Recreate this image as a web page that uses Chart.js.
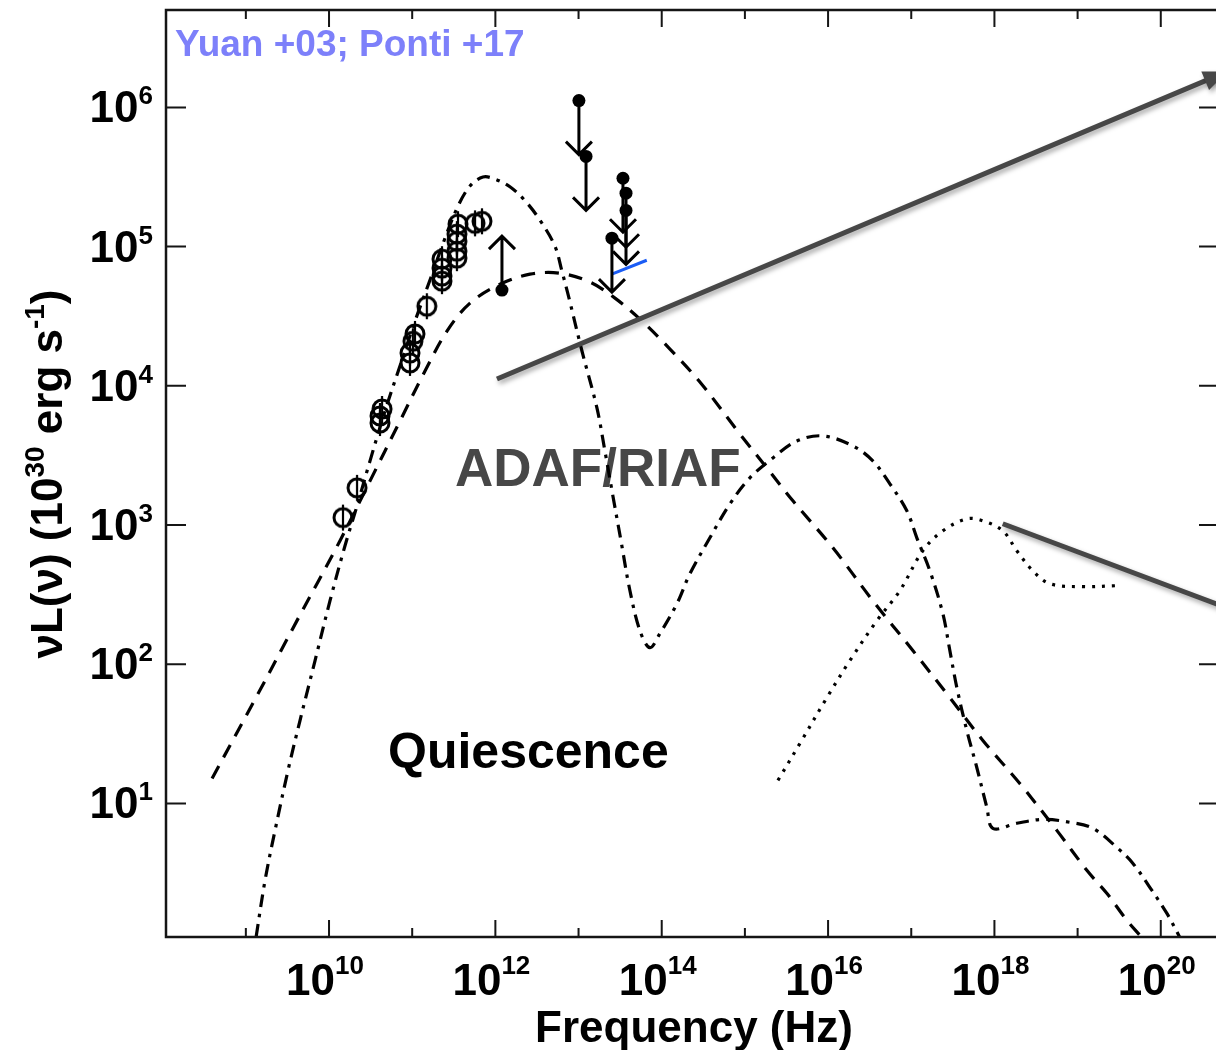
<!DOCTYPE html>
<html>
<head>
<meta charset="utf-8">
<title>Sgr A* quiescent SED</title>
<script src="https://cdn.jsdelivr.net/npm/chart.js@4.4.1/dist/chart.umd.min.js"></script>
<style>
  html, body { margin: 0; padding: 0; background: #fff; overflow: hidden; }
  #wrap { position: relative; width: 1230px; height: 1050px; }
</style>
</head>
<body>
<div id="wrap"><canvas id="sed" width="1230" height="1050"></canvas></div>
<script>
// ---- Radio / sub-mm detections (open circles) ----
const radioFreq = [1.47e10, 2.17e10, 4.1e10, 4.1e10, 4.34e10, 9.4e10, 9.4e10, 1.02e11, 1.08e11, 1.5e11,
                   2.28e11, 2.28e11, 2.28e11, 2.28e11, 3.45e11, 3.45e11, 3.45e11, 3.45e11, 3.55e11, 5.69e11, 6.9e11];
const radioLum  = [1.13e3, 1.85e3, 5.4e3, 6.07e3, 6.82e3, 1.46e4, 1.72e4, 2.09e4, 2.36e4, 3.73e4,
                   5.65e4, 6.14e4, 7.0e4, 8.13e4, 8.26e4, 9.27e4, 1.09e5, 1.23e5, 1.45e5, 1.47e5, 1.52e5];

// ---- Infrared upper limits (filled circles, arrow down) ----
const upperFreq = [1.01e13, 1.23e13, 2.52e13, 3.42e13, 3.72e13, 3.72e13];
const upperLum  = [1.12e6, 4.45e5, 1.15e5, 3.1e5, 2.42e5, 1.82e5];

// ---- Lower limit (filled circle, arrow up) ----
const lowerFreq = [1.2e12];
const lowerLum  = [4.87e4];

// ---- Model curves, log10(nu / Hz) and log10(nuL / 1e30 erg/s) ----
const adafLogNu = [8.594, 9.135, 9.615, 10.132, 10.493, 10.853, 11.154, 11.418, 11.695, 12.055, 12.416, 12.776,
                   13.137, 13.438, 13.738, 14.099, 14.459, 14.940, 15.264, 15.577, 16.058, 16.538, 17.019, 17.464,
                   17.861, 18.305, 18.750, 19.111, 19.351, 19.591, 19.748];
const adafLogL  = [1.179, 1.775, 2.313, 2.887, 3.317, 3.747, 4.106, 4.393, 4.594, 4.730, 4.802, 4.809,
                   4.745, 4.630, 4.479, 4.264, 4.027, 3.654, 3.410, 3.174, 2.836, 2.456, 2.098, 1.760,
                   1.452, 1.143, 0.806, 0.519, 0.354, 0.161, 0.053];

const riafLogNu = [9.123, 9.231, 9.351, 9.507, 9.651, 9.832, 10.012, 10.192, 10.337, 10.493, 10.673, 10.853,
                   11.034, 11.214, 11.394, 11.550, 11.695, 11.851, 11.995, 12.175, 12.356, 12.536, 12.716, 12.800,
                   12.873, 13.041, 13.221, 13.317, 13.413, 13.510, 13.618, 13.738, 13.858, 13.978, 14.183, 14.339,
                   14.579, 14.820, 15.060, 15.337, 15.625, 15.938, 16.298, 16.538, 16.743, 16.947, 17.067, 17.224,
                   17.380, 17.464, 17.548, 17.668, 17.788, 17.909, 17.981, 18.269, 18.582, 18.906, 19.183, 19.471,
                   19.663, 19.868, 20.072, 20.228];
const riafLogL  = [0.039, 0.448, 0.806, 1.237, 1.595, 2.026, 2.456, 2.851, 3.138, 3.461, 3.819, 4.142,
                   4.465, 4.760, 5.060, 5.290, 5.435, 5.500, 5.485, 5.430, 5.330, 5.190, 5.003, 4.824,
                   4.659, 4.250, 3.841, 3.532, 3.209, 2.887, 2.528, 2.241, 2.119, 2.220, 2.435, 2.650,
                   2.908, 3.152, 3.339, 3.482, 3.604, 3.640, 3.568, 3.461, 3.296, 3.102, 2.908, 2.671,
                   2.363, 2.098, 1.832, 1.524, 1.258, 0.971, 0.821, 0.857, 0.885, 0.864, 0.821, 0.684,
                   0.570, 0.397, 0.211, 0.039];

const bremLogNu = [15.397, 15.661, 15.986, 16.262, 16.587, 16.863, 17.139, 17.380, 17.668, 17.861, 18.101,
                   18.269, 18.462, 18.666, 19.063, 19.471];
const bremLogL  = [1.165, 1.430, 1.760, 2.026, 2.313, 2.528, 2.815, 2.958, 3.044, 3.030, 2.958,
                   2.815, 2.671, 2.578, 2.557, 2.564];

// ---- Flare / spectral-slope guide lines ----
const flareUpLogNu   = [12.019, 20.8];
const flareUpLogL    = [4.049, 6.258];
const flareDownLogNu = [18.10, 20.8];
const flareDownLogL  = [3.009, 2.404];
const irSlopeLogNu   = [13.40, 13.82];
const irSlopeLogL    = [4.802, 4.902];

// ---- Axis ticks and labels ----
const yTickValues    = [1e1, 1e2, 1e3, 1e4, 1e5, 1e6];
const yTickExponents = ['1', '2', '3', '4', '5', '6'];
const xTickValues    = [1e9, 1e10, 1e11, 1e12, 1e13, 1e14, 1e15, 1e16, 1e17, 1e18, 1e19, 1e20];
const xLabelValues   = [1e10, 1e12, 1e14, 1e16, 1e18, 1e20];
const xLabelExponents = ['10', '12', '14', '16', '18', '20'];

// ---- Text annotations, anchored in data coordinates ----
const modelLabel = { text: 'ADAF/RIAF', nu: 3.27e11, lum: 1.91e3 };
const stateLabel = { text: 'Quiescence', nu: 5.12e10, lum: 18.1 };
const refText = 'Yuan +03; Ponti +17';

const FONT = '"Liberation Sans", Arial, Helvetica, sans-serif';

const toPoints = (lx, ly) => lx.map((v, i) => ({ x: Math.pow(10, v), y: Math.pow(10, ly[i]) }));
const toPairs = (xs, ys) => xs.map((v, i) => ({ x: v, y: ys[i] }));

// open circle with a short vertical error bar
function ringGlyph() {
  const c = document.createElement('canvas');
  c.width = 28; c.height = 32;
  const g = c.getContext('2d');
  g.strokeStyle = '#000';
  g.lineWidth = 3;
  g.beginPath(); g.arc(14, 16, 9, 0, Math.PI * 2); g.stroke();
  g.lineWidth = 2.2;
  g.beginPath(); g.moveTo(14, 3); g.lineTo(14, 29); g.stroke();
  return c;
}

// text with superscript pieces: [[text, isSup], ...]
function drawRich(ctx, pieces, x, y, align, baseSize, supSize, rise) {
  const widths = pieces.map(([t, s]) => {
    ctx.font = `bold ${s ? supSize : baseSize}px ${FONT}`;
    return ctx.measureText(t).width;
  });
  const total = widths.reduce((a, b) => a + b, 0);
  let cx = align === 'right' ? x - total : align === 'center' ? x - total / 2 : x;
  ctx.textAlign = 'left';
  ctx.textBaseline = 'alphabetic';
  pieces.forEach(([t, s], i) => {
    ctx.font = `bold ${s ? supSize : baseSize}px ${FONT}`;
    ctx.fillText(t, cx, s ? y - rise : y);
    cx += widths[i];
  });
}

const sedPlugin = {
  id: 'sedDecor',
  beforeDatasetsDraw(chart) {
    const { ctx, scales: { x, y } } = chart;
    ctx.save();
    ctx.textAlign = 'left';
    ctx.textBaseline = 'alphabetic';
    ctx.fillStyle = '#474747';
    ctx.font = `bold 53px ${FONT}`;
    ctx.fillText(modelLabel.text, x.getPixelForValue(modelLabel.nu), y.getPixelForValue(modelLabel.lum));
    ctx.fillStyle = '#000';
    ctx.font = `bold 50px ${FONT}`;
    ctx.fillText(stateLabel.text, x.getPixelForValue(stateLabel.nu), y.getPixelForValue(stateLabel.lum));
    ctx.fillStyle = 'rgb(125,128,250)';
    ctx.font = `bold 37px ${FONT}`;
    ctx.fillText(refText, chart.chartArea.left + 9, chart.chartArea.top + 46);
    ctx.restore();
  },
  beforeDatasetDraw(chart, args) {
    const ds = chart.data.datasets[args.index];
    if (ds.dropShadow) {
      const ctx = chart.ctx;
      ctx.save();
      ctx.shadowColor = 'rgba(0,0,0,0.35)';
      ctx.shadowBlur = 5;
      ctx.shadowOffsetX = 2;
      ctx.shadowOffsetY = 3;
    }
  },
  afterDatasetDraw(chart, args) {
    const ds = chart.data.datasets[args.index];
    const ctx = chart.ctx;
    if (ds.arrowHead) {
      const pts = args.meta.data;
      const a = pts[pts.length - 2], b = pts[pts.length - 1];
      const ang = Math.atan2(b.y - a.y, b.x - a.x);
      const L = 24, W = 10;
      ctx.fillStyle = ds.borderColor;
      ctx.beginPath();
      ctx.moveTo(b.x, b.y);
      ctx.lineTo(b.x - L * Math.cos(ang) + W * Math.sin(ang), b.y - L * Math.sin(ang) - W * Math.cos(ang));
      ctx.lineTo(b.x - L * Math.cos(ang) - W * Math.sin(ang), b.y - L * Math.sin(ang) + W * Math.cos(ang));
      ctx.closePath();
      ctx.fill();
    }
    if (ds.dropShadow) ctx.restore();
  },
  afterDatasetsDraw(chart) {
    const { ctx, chartArea: area, scales: { x, y } } = chart;
    ctx.save();

    // limit arrows
    chart.data.datasets.forEach((ds, i) => {
      if (!ds.limit) return;
      const dir = ds.limit === 'upper' ? 1 : -1;
      chart.getDatasetMeta(i).data.forEach(p => {
        const len = 54, w = 13;
        const tip = p.y + dir * len;
        ctx.strokeStyle = '#000';
        ctx.lineWidth = 3;
        ctx.lineCap = 'butt';
        ctx.lineJoin = 'miter';
        ctx.beginPath();
        ctx.moveTo(p.x, p.y);
        ctx.lineTo(p.x, tip);
        ctx.moveTo(p.x - w, tip - dir * w);
        ctx.lineTo(p.x, tip);
        ctx.lineTo(p.x + w, tip - dir * w);
        ctx.stroke();
      });
    });

    // frame
    ctx.strokeStyle = '#151515';
    ctx.lineWidth = 2.5;
    ctx.strokeRect(area.left, area.top, area.right - area.left, area.bottom - area.top);

    // inward ticks
    ctx.lineWidth = 2;
    ctx.beginPath();
    yTickValues.forEach(v => {
      const py = y.getPixelForValue(v);
      ctx.moveTo(area.left, py); ctx.lineTo(area.left + 20, py);
      ctx.moveTo(area.right, py); ctx.lineTo(area.right - 20, py);
    });
    xTickValues.forEach(v => {
      const px = x.getPixelForValue(v);
      const major = xLabelValues.includes(v);
      const len = major ? 17 : 9;
      ctx.moveTo(px, area.bottom); ctx.lineTo(px, area.bottom - len);
      ctx.moveTo(px, area.top); ctx.lineTo(px, area.top + len);
    });
    ctx.stroke();

    // tick labels
    ctx.fillStyle = '#000';
    yTickValues.forEach((v, i) => {
      const py = y.getPixelForValue(v);
      drawRich(ctx, [['10', false], [yTickExponents[i], true]], 153, py + 15, 'right', 44, 26, 18);
    });
    xLabelValues.forEach((v, i) => {
      const px = x.getPixelForValue(v);
      drawRich(ctx, [['10', false], [xLabelExponents[i], true]], px - 4, 995, 'center', 44, 26, 21);
    });

    // axis titles
    ctx.textAlign = 'center';
    ctx.font = `bold 44px ${FONT}`;
    ctx.fillText('Frequency (Hz)', 694, 1042);

    ctx.save();
    ctx.translate(62, 474);
    ctx.rotate(-Math.PI / 2);
    drawRich(ctx, [['\u03BDL(\u03BD) (10', false], ['30', true], [' erg s', false], ['-1', true], [')', false]],
             0, 0, 'center', 44, 28, 18);
    ctx.restore();

    ctx.restore();
  }
};

const ring = ringGlyph();

new Chart(document.getElementById('sed'), {
  type: 'scatter',
  data: {
    datasets: [
      { label: 'radio', data: toPairs(radioFreq, radioLum), pointStyle: ring, pointRadius: 9, order: 0 },
      { label: 'IR upper limits', data: toPairs(upperFreq, upperLum), pointStyle: 'circle', pointRadius: 6.5,
        backgroundColor: '#000', borderColor: '#000', borderWidth: 0, limit: 'upper', order: 0 },
      { label: 'lower limit', data: toPairs(lowerFreq, lowerLum), pointStyle: 'circle', pointRadius: 6.5,
        backgroundColor: '#000', borderColor: '#000', borderWidth: 0, limit: 'lower', order: 0 },
      { label: 'IR slope', data: toPoints(irSlopeLogNu, irSlopeLogL), showLine: true, pointRadius: 0,
        borderColor: '#1a5cf5', borderWidth: 3, order: 1 },
      { label: 'flare rise', data: toPoints(flareUpLogNu, flareUpLogL), showLine: true, pointRadius: 0,
        borderColor: '#474747', borderWidth: 5, dropShadow: true, arrowHead: true, order: 2 },
      { label: 'flare fall', data: toPoints(flareDownLogNu, flareDownLogL), showLine: true, pointRadius: 0,
        borderColor: '#474747', borderWidth: 5, dropShadow: true, order: 2 },
      { label: 'ADAF', data: toPoints(adafLogNu, adafLogL), showLine: true, pointRadius: 0,
        borderColor: '#000', borderWidth: 3.2, borderDash: [14, 10], tension: 0.35, order: 3 },
      { label: 'RIAF', data: toPoints(riafLogNu, riafLogL), showLine: true, pointRadius: 0,
        borderColor: '#000', borderWidth: 3.2, borderDash: [13, 7, 3.5, 7], tension: 0.35, order: 3 },
      { label: 'bremsstrahlung', data: toPoints(bremLogNu, bremLogL), showLine: true, pointRadius: 0,
        borderColor: '#000', borderWidth: 3.2, borderDash: [3, 7], tension: 0.35, order: 3 }
    ]
  },
  options: {
    responsive: false,
    animation: false,
    devicePixelRatio: 1,
    layout: { padding: { left: 166, top: 9, right: 11, bottom: 113 } },
    plugins: { legend: { display: false }, tooltip: { enabled: false } },
    scales: {
      x: { type: 'logarithmic', min: Math.pow(10, 8.04), max: Math.pow(10, 20.7), display: false },
      y: { type: 'logarithmic', min: Math.pow(10, 0.04), max: Math.pow(10, 6.7), display: false }
    }
  },
  plugins: [sedPlugin]
});
</script>
</body>
</html>
